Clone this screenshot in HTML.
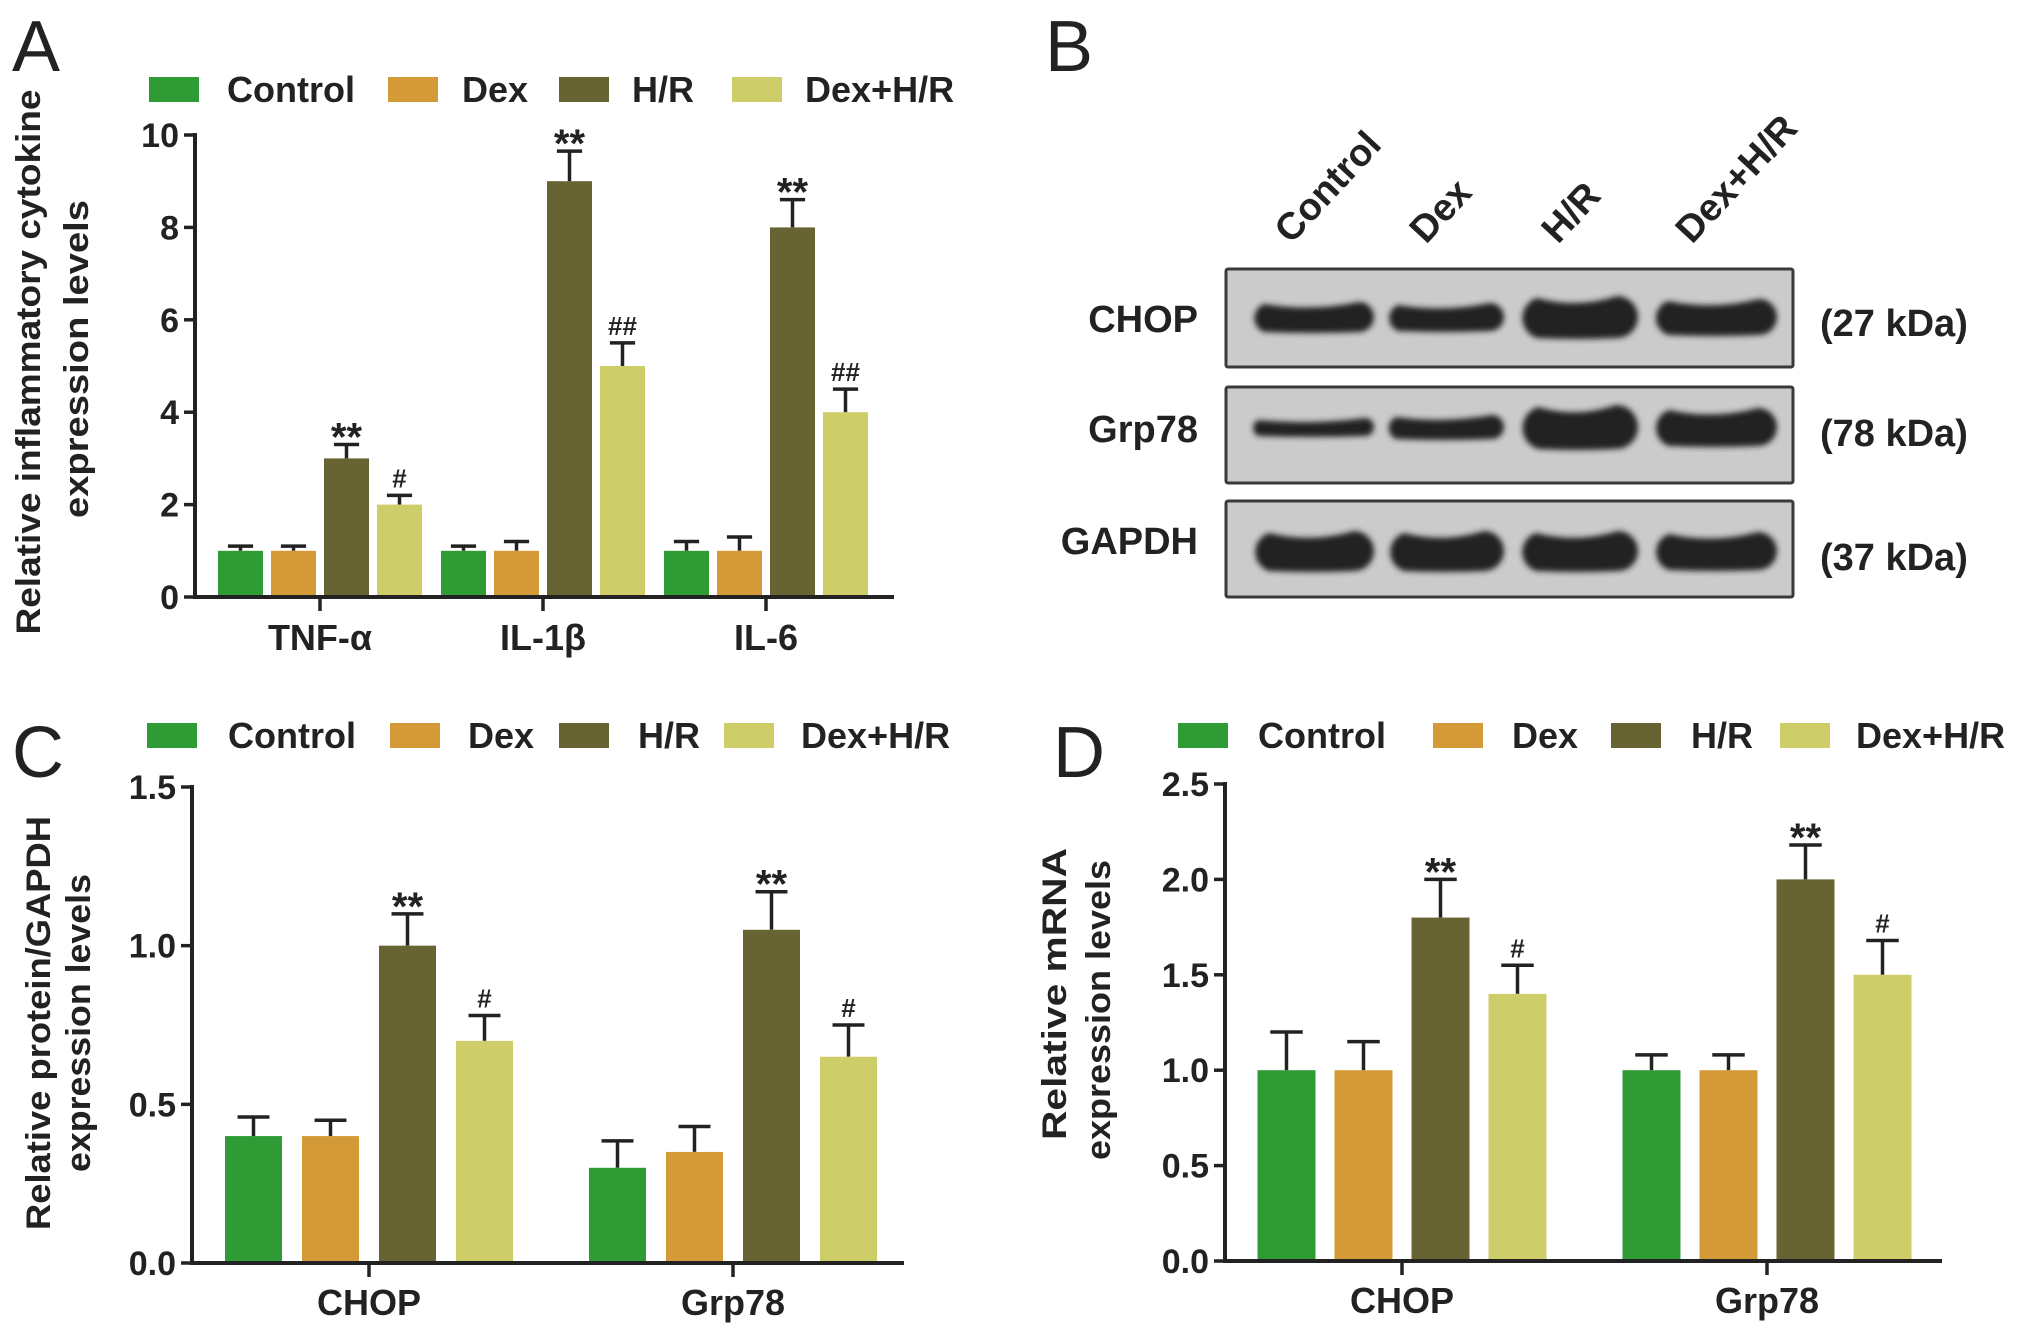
<!DOCTYPE html>
<html><head><meta charset="utf-8">
<style>
html,body{margin:0;padding:0;background:#fff;}
svg{display:block;font-family:"Liberation Sans",Arial,sans-serif;}
</style></head>
<body>
<svg id="fig" xmlns="http://www.w3.org/2000/svg" width="2031" height="1337" viewBox="0 0 2031 1337">
<defs>
<filter id="blur" x="-20%" y="-50%" width="140%" height="200%"><feGaussianBlur stdDeviation="3"/></filter>
</defs>
<rect width="2031" height="1337" fill="#fff"/>
<g id="panelA"></g>
<g id="panelB"></g>
<g id="panelC"></g>
<g id="panelD"></g>
</svg>
<script>
// ---------- data ----------
const seriesNames = ["Control", "Dex", "H/R", "Dex+H/R"];
const seriesColors = ["#2f9b35", "#d49a37", "#686332", "#cdcd6a"];

const aCategories = ["TNF-α", "IL-1β", "IL-6"];
const aControl = [1, 1, 1];
const aDex = [1, 1, 1];
const aHR = [3, 9, 8];
const aDexHR = [2, 5, 4];
const aControlErr = [0.1, 0.1, 0.2];
const aDexErr = [0.1, 0.2, 0.3];
const aHRErr = [0.3, 0.65, 0.6];
const aDexHRErr = [0.2, 0.5, 0.5];
const aHRMarks = ["**", "**", "**"];
const aDexHRMarks = ["#", "##", "##"];
const aTicks = [0, 2, 4, 6, 8, 10];
const aTickLabels = ["0", "2", "4", "6", "8", "10"];

const cCategories = ["CHOP", "Grp78"];
const cControl = [0.4, 0.3];
const cDex = [0.4, 0.35];
const cHR = [1.0, 1.05];
const cDexHR = [0.7, 0.65];
const cControlErr = [0.06, 0.085];
const cDexErr = [0.05, 0.08];
const cHRErr = [0.1, 0.12];
const cDexHRErr = [0.08, 0.1];
const cHRMarks = ["**", "**"];
const cDexHRMarks = ["#", "#"];
const cTicks = [0, 0.5, 1.0, 1.5];
const cTickLabels = ["0.0", "0.5", "1.0", "1.5"];

const dCategories = ["CHOP", "Grp78"];
const dControl = [1.0, 1.0];
const dDex = [1.0, 1.0];
const dHR = [1.8, 2.0];
const dDexHR = [1.4, 1.5];
const dControlErr = [0.2, 0.08];
const dDexErr = [0.15, 0.08];
const dHRErr = [0.2, 0.18];
const dDexHRErr = [0.15, 0.18];
const dHRMarks = ["**", "**"];
const dDexHRMarks = ["#", "#"];
const dTicks = [0, 0.5, 1.0, 1.5, 2.0, 2.5];
const dTickLabels = ["0.0", "0.5", "1.0", "1.5", "2.0", "2.5"];

const NS = "http://www.w3.org/2000/svg";
function mk(parent, tag, attrs, text) {
  const e = document.createElementNS(NS, tag);
  for (const k in attrs) e.setAttribute(k, attrs[k]);
  if (text !== undefined) e.textContent = text;
  parent.appendChild(e);
  return e;
}

function drawPanel(g, cfg, cats, vals, errs, hrMarks, dhMarks, ticks, tickLabels) {
  const yScale = v => cfg.y0 - (v - cfg.vmin) / (cfg.vmax - cfg.vmin) * (cfg.y0 - cfg.yTop);
  const gc = i => cfg.gx0 + i * cfg.gs;
  const bx = (i, s) => gc(i) - (3 * cfg.step + cfg.bw) / 2 + s * cfg.step;

  // panel letter
  const L = mk(g, "text", {x: cfg.letterX, y: cfg.letterY, "font-size": 72, fill: "#222"}, cfg.letter);
  
  

  // legend
  const lg = mk(g, "g", {});
  
  
  for (let s = 0; s < 4; s++) {
    const sw = mk(lg, "rect", {x: cfg.legSw[s], y: cfg.legY - 12, width: 50, height: 25, fill: seriesColors[s]});
    
    
    const t = mk(lg, "text", {x: cfg.legTx[s], y: cfg.legY + 13, "font-size": 36, "font-weight": "bold", fill: "#222"}, seriesNames[s]);
    
    
  }

  // y title
  cfg.titles.forEach(tt => {
    const t = mk(g, "text", {transform: `translate(${tt.x + 12},${tt.y}) rotate(-90)`, "text-anchor": "middle", "font-size": 34, "font-weight": "bold", fill: "#222", textLength: tt.len, lengthAdjust: "spacingAndGlyphs"}, tt.text);
    
    
  });

  // bars
  for (let i = 0; i < cats.length; i++) {
    for (let s = 0; s < 4; s++) {
      const v = vals[s][i], e = errs[s][i];
      const x = bx(i, s), yt = yScale(v), ye = yScale(v + e);
      const cx = x + cfg.bw / 2;
      const eb = mk(g, "path", {d: `M${cx},${yt} V${ye} M${cx - cfg.bw * 0.28},${ye} H${cx + cfg.bw * 0.28}`, stroke: "#222", "stroke-width": 3.5, fill: "none"});
      
      
      const r = mk(g, "rect", {x: x, y: yt, width: cfg.bw, height: cfg.y0 - yt, fill: seriesColors[s]});
      
      
      let m = s === 2 ? hrMarks[i] : (s === 3 ? dhMarks[i] : "");
      if (m) {
        const star = m.indexOf("*") >= 0;
        const t = mk(g, "text", {x: cx, y: ye - (star ? -6 : 8), "text-anchor": "middle", "font-size": star ? 40 : 26, "font-weight": "bold", fill: "#222"}, m);
        
        
      }
    }
    const ct = mk(g, "line", {x1: gc(i), x2: gc(i), y1: cfg.y0, y2: cfg.y0 + 14, stroke: "#222", "stroke-width": 3.5});
    
    
    const cl = mk(g, "text", {x: gc(i), y: cfg.catY, "text-anchor": "middle", "font-size": 36, "font-weight": "bold", fill: "#222"}, cats[i]);
    
    
  }

  // axes
  const ya = mk(g, "line", {x1: cfg.x0, x2: cfg.x0, y1: cfg.yTop - 2, y2: cfg.y0 + 2, stroke: "#222", "stroke-width": 4});
  
  
  const xa = mk(g, "line", {x1: cfg.x0 - 2, x2: cfg.xEnd, y1: cfg.y0, y2: cfg.y0, stroke: "#222", "stroke-width": 4});
  
  
  ticks.forEach((tv, k) => {
    const y = yScale(tv);
    const tk = mk(g, "line", {x1: cfg.x0 - 11, x2: cfg.x0, y1: y, y2: y, stroke: "#222", "stroke-width": 3.5});
    
    
    const tl = mk(g, "text", {x: cfg.x0 - 16, y: y + 12, "text-anchor": "end", "font-size": 34, "font-weight": "bold", fill: "#222"}, tickLabels[k]);
    
    
  });
}

drawPanel(document.getElementById("panelA"),
  {letter: "A", letterX: 12, letterY: 71, legY: 89, legSw: [149, 388, 559, 732], legTx: [227, 462, 632, 805],
   x0: 195, xEnd: 894, y0: 597, yTop: 135, vmin: 0, vmax: 10, gx0: 320, gs: 223, bw: 45, step: 53, catY: 650,
   titles: [{x: 28, y: 362, len: 545, text: "Relative inflammatory cytokine"}, {x: 76, y: 359, len: 318, text: "expression levels"}]},
  aCategories, [aControl, aDex, aHR, aDexHR], [aControlErr, aDexErr, aHRErr, aDexHRErr], aHRMarks, aDexHRMarks, aTicks, aTickLabels);

drawPanel(document.getElementById("panelC"),
  {letter: "C", letterX: 12, letterY: 777, legY: 735, legSw: [147, 390, 559, 724], legTx: [228, 468, 638, 801],
   x0: 192, xEnd: 904, y0: 1263, yTop: 787, vmin: 0, vmax: 1.5, gx0: 369, gs: 364, bw: 57, step: 77, catY: 1315,
   titles: [{x: 38, y: 1023, len: 414, text: "Relative protein/GAPDH"}, {x: 78, y: 1023, len: 298, text: "expression levels"}]},
  cCategories, [cControl, cDex, cHR, cDexHR], [cControlErr, cDexErr, cHRErr, cDexHRErr], cHRMarks, cDexHRMarks, cTicks, cTickLabels);

drawPanel(document.getElementById("panelD"),
  {letter: "D", letterX: 1053, letterY: 777, legY: 735, legSw: [1178, 1433, 1611, 1780], legTx: [1258, 1512, 1691, 1856],
   x0: 1225, xEnd: 1942, y0: 1261, yTop: 784, vmin: 0, vmax: 2.5, gx0: 1402, gs: 365, bw: 58, step: 77, catY: 1313,
   titles: [{x: 1054, y: 994, len: 292, text: "Relative mRNA"}, {x: 1098, y: 1010, len: 300, text: "expression levels"}]},
  dCategories, [dControl, dDex, dHR, dDexHR], [dControlErr, dDexErr, dHRErr, dDexHRErr], dHRMarks, dDexHRMarks, dTicks, dTickLabels);

// ---------- panel B: western blot ----------
const blotRows = ["CHOP", "Grp78", "GAPDH"];
const blotKDa = ["(27 kDa)", "(78 kDa)", "(37 kDa)"];
const laneNames = ["Control", "Dex", "H/R", "Dex+H/R"];
// band intensity (thickness) per row per lane
const chopBand = [24, 22, 36, 30];
const grpBand = [12, 18, 38, 32];
const gapdhBand = [34, 34, 34, 32];
(function () {
  const g = document.getElementById("panelB");
  const L = mk(g, "text", {x: 1045, y: 71, "font-size": 72, fill: "#222"}, "B");
  
  
  const laneX = [[1249, 1374], [1384, 1504], [1516, 1638], [1650, 1777]];
  const boxes = [[269, 367], [387, 483], [501, 597]];
  const bands = [chopBand, grpBand, gapdhBand];
  const rowCY = [318, 428, 552];
  laneNames.forEach((n, i) => {
    const x = laneX[i][0] + 42, y = 245;
    const t = mk(g, "text", {transform: `translate(${x},${y}) rotate(-47)`, "font-size": 38, "font-weight": "bold", fill: "#222"}, n);
    
    
  });
  boxes.forEach((b, r) => {
    const bx = mk(g, "rect", {x: 1226, y: b[0], width: 567, height: b[1] - b[0], fill: "#cbcbcb", stroke: "#3a3a3a", "stroke-width": 3, rx: 2});
    
    
    const lb = mk(g, "text", {x: 1198, y: rowCY[r] + 14 - (r === 2 ? 12 : 0), "text-anchor": "end", "font-size": 38, "font-weight": "bold", fill: "#222"}, blotRows[r]);
    
    
    const kd = mk(g, "text", {x: 1820, y: rowCY[r] + 18, "font-size": 38, "font-weight": "bold", fill: "#222"}, blotKDa[r]);
    
    
    const bg = mk(g, "g", {filter: "url(#blur)", fill: "#222"});
    bands[r].forEach((th, i) => {
      const [x1, x2] = laneX[i];
      const cy = rowCY[r];
      const rEnd = th / 2 + 3;
      const bd = mk(bg, "path", {d: `M${x1 + rEnd},${cy - th / 2 - 2} Q${(x1 + x2) / 2},${cy - th / 4} ${x2 - rEnd},${cy - th / 2 - 4} A${rEnd},${rEnd} 0 0 1 ${x2 - rEnd},${cy + th / 2 + 2} Q${(x1 + x2) / 2},${cy + th / 2 + 4} ${x1 + rEnd},${cy + th / 2 + 2} A${rEnd},${rEnd} 0 0 1 ${x1 + rEnd},${cy - th / 2 - 2} Z`});
      
      
    });
  });
})();
</script>
</body></html>
